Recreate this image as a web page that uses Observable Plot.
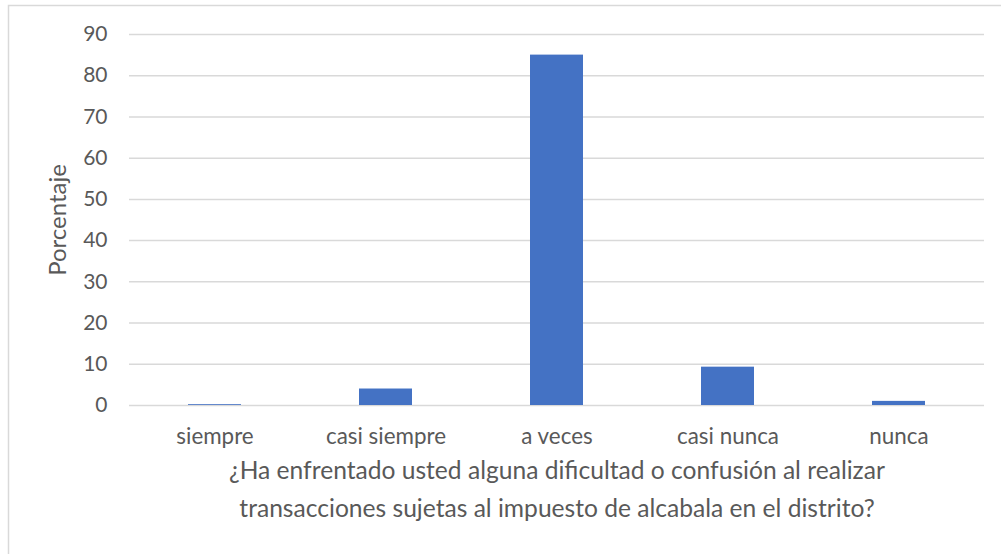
<!DOCTYPE html>
<html>
<head>
<meta charset="utf-8">
<script src="https://cdn.jsdelivr.net/npm/d3@7"></script>
<script src="https://cdn.jsdelivr.net/npm/@observablehq/plot@0.6"></script>
<style>
  body { margin: 0; background: #fff; }
  #chart svg { display: block; }
</style>
</head>
<body>
<div id="chart"></div>
<script>
const categories = ["siempre", "casi siempre", "a veces", "casi nunca", "nunca"];
const values = [0.2, 4.0, 85.0, 9.3, 1.0];
const yTicks = [0, 10, 20, 30, 40, 50, 60, 70, 80, 90];
const xTitle = ["¿Ha enfrentado usted alguna dificultad o confusión al realizar", "transacciones sujetas al impuesto de alcabala en el distrito?"];
const yTitle = "Porcentaje";

const data = categories.map((c, i) => ({ category: c, value: values[i] }));
const textColor = "#595959";
const font = "Lato, 'Open Sans', sans-serif";

const border = (index, scales, vals, dims) => {
  const r = document.createElementNS("http://www.w3.org/2000/svg", "rect");
  r.setAttribute("x", 8.5);
  r.setAttribute("y", 5.5);
  r.setAttribute("width", dims.width);
  r.setAttribute("height", dims.height);
  r.setAttribute("fill", "none");
  r.setAttribute("stroke", "#d9d9d9");
  r.setAttribute("stroke-width", 1.5);
  return r;
};

const chart = Plot.plot({
  width: 1001,
  height: 554,
  marginLeft: 129,
  marginRight: 17,
  marginTop: 34,
  marginBottom: 149,
  style: { fontFamily: font, color: textColor, background: "#fff" },
  x: { domain: categories, paddingInner: 0.69, paddingOuter: 0.345, label: null, tickSize: 0 },
  y: { domain: [0, 90], ticks: yTicks, label: null, tickSize: 0 },
  marks: [
    border,
    Plot.gridY(yTicks, { stroke: "#d9d9d9", strokeOpacity: 1, strokeWidth: 1.5 }),
    Plot.barY(data, { x: "category", y: "value", fill: "#4472c4" }),
    Plot.axisY(yTicks, { tickSize: 0, tickPadding: 22, fontSize: 21, fill: textColor, label: null }),
    Plot.axisX({ tickSize: 0, tickPadding: 23, fontSize: 22.4, fill: textColor, label: null }),
    Plot.text([yTitle], { frameAnchor: "left", textAnchor: "middle", rotate: -90, dx: -71, fontSize: 24, fill: textColor }),
    Plot.text([xTitle.join("\n")], { frameAnchor: "bottom", dy: 80, lineHeight: 1.55, fontSize: 24.6, fill: textColor, lineAnchor: "middle" })
  ]
});
document.getElementById("chart").appendChild(chart);
</script>
</body>
</html>
